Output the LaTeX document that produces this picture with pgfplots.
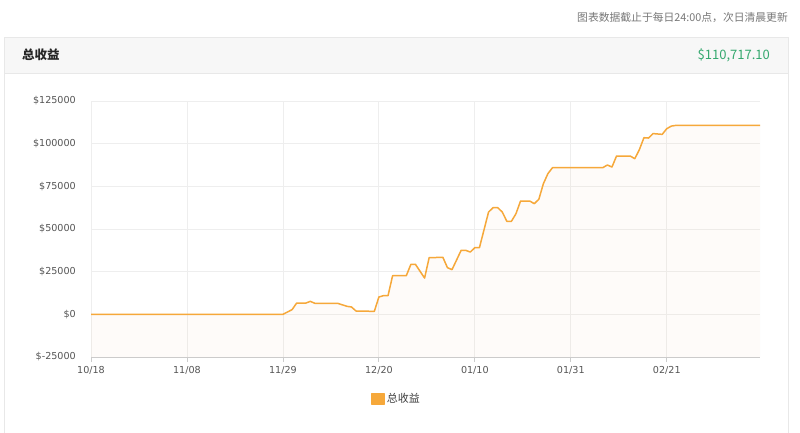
\documentclass[border=0pt]{standalone}
\usepackage{fontspec}
\usepackage{pgfplots}
\usepackage{pgfplotstable}
\pgfplotsset{compat=1.18}
\setmainfont{DejaVu Sans}
\newfontfamily\cjk{Noto Sans CJK SC}
\newfontfamily\tickfont{DejaVu Sans}

\definecolor{lineorange}{RGB}{246,168,58}
\definecolor{areafill}{RGB}{250,175,120}
\definecolor{gridc}{RGB}{238,238,238}
\definecolor{axisc}{RGB}{204,204,204}
\definecolor{panelborder}{RGB}{232,232,232}
\definecolor{headbg}{RGB}{247,247,247}
\definecolor{tickc}{RGB}{85,85,85}
\definecolor{valgreen}{RGB}{52,168,110}
\definecolor{notec}{RGB}{120,120,120}

% total income, day 0 = 10/18
\pgfplotstableread{
day value
0 0
42 0
44 2750
45 6600
47 6600
48 7600
49 6450
54 6450
56 4700
57 4300
58 1950
62 1750
63 10150
64 10950
65 10950
66 22650
69 22650
70 29300
71 29300
73 21270
74 33200
77 33400
78 27350
79 26200
81 37500
82 37500
83 36500
84 39050
85 39050
87 59950
88 62500
89 62500
90 59950
91 54500
92 54500
93 59000
94 66400
96 66400
97 64850
98 67400
99 76600
100 82500
101 85950
112 85950
113 87500
114 86300
115 92750
118 92750
119 91200
120 96500
121 103500
122 103300
123 105900
125 105450
126 108800
127 110300
128 110717
146.4 110717
}\income

% same series closed down to the axis floor, for the area
\pgfplotstableread{
day value
0 -25000
0 0
42 0
44 2750
45 6600
47 6600
48 7600
49 6450
54 6450
56 4700
57 4300
58 1950
62 1750
63 10150
64 10950
65 10950
66 22650
69 22650
70 29300
71 29300
73 21270
74 33200
77 33400
78 27350
79 26200
81 37500
82 37500
83 36500
84 39050
85 39050
87 59950
88 62500
89 62500
90 59950
91 54500
92 54500
93 59000
94 66400
96 66400
97 64850
98 67400
99 76600
100 82500
101 85950
112 85950
113 87500
114 86300
115 92750
118 92750
119 91200
120 96500
121 103500
122 103300
123 105900
125 105450
126 108800
127 110300
128 110717
146.4 110717
146.4 -25000
}\incomearea

\begin{document}
\begin{tikzpicture}
\path[use as bounding box] (0,0) rectangle (800pt,-433pt);
\fill[white] (0,0) rectangle (800pt,-433pt);
\begin{scope}
\clip (0,0) rectangle (800pt,-433pt);
\fill[headbg] (4.5pt,-37.5pt) rectangle (788.5pt,-73pt);
\draw[panelborder] (4.5pt,-73pt) -- (788.5pt,-73pt);
\draw[panelborder] (4.5pt,-445pt) rectangle (788.5pt,-37.5pt);
\end{scope}
\node[anchor=east, text=notec, font=\cjk\fontsize{10.8}{12}\selectfont, inner sep=0pt] at (788pt,-18pt) {图表数据截止于每日24:00点，次日清晨更新};
\node[anchor=west, text=black!85, font=\cjk\bfseries\fontsize{12.5}{14}\selectfont, inner sep=0pt] at (22pt,-55pt) {总收益};
\node[anchor=east, text=valgreen, font=\cjk\fontsize{13}{15}\selectfont, inner sep=0pt] at (770pt,-55pt) {\$110,717.10};

\begin{axis}[
  at={(91pt,-357pt)}, anchor=south west,
  scale only axis, width=669pt, height=256pt,
  xmin=0, xmax=146.4,
  ymin=-25000, ymax=125000,
  scaled y ticks=false,
  xtick={0,21,42,63,84,105,126},
  xticklabels={10/18,11/08,11/29,12/20,01/10,01/31,02/21},
  ytick={-25000,0,25000,50000,75000,100000,125000},
  yticklabels={\$-25000,\$0,\$25000,\$50000,\$75000,\$100000,\$125000},
  axis x line*=bottom, axis y line*=left,
  x axis line style={draw=axisc, line width=0.8pt, -},
  y axis line style={draw=none},
  tick align=outside,
  major tick length=5pt,
  x tick style={draw=axisc, line width=0.8pt},
  y tick style={draw=none},
  grid=major,
  major grid style={draw=gridc, line width=0.8pt},
  ticklabel style={font=\tickfont\fontsize{9.6}{11}\selectfont, text=tickc},
  yticklabel style={inner sep=0pt, xshift=-10pt},
  xticklabel style={inner sep=0pt, yshift=-4pt},
  legend style={at={(0.457,-0.164)}, anchor=center, draw=none, fill=none,
    font=\cjk\fontsize{11}{12}\selectfont, text=black!75},
  legend image code/.code={\fill[lineorange] (0pt,-5.5pt) rectangle (12pt,5.5pt);},
]
\addplot[fill=areafill, fill opacity=0.045, draw=none, forget plot] table[x=day, y=value] {\incomearea};
\addplot[lineorange, line width=1.5pt, line join=round] table[x=day, y=value] {\income};
\addlegendentry{总收益}
\end{axis}
\end{tikzpicture}
\end{document}
